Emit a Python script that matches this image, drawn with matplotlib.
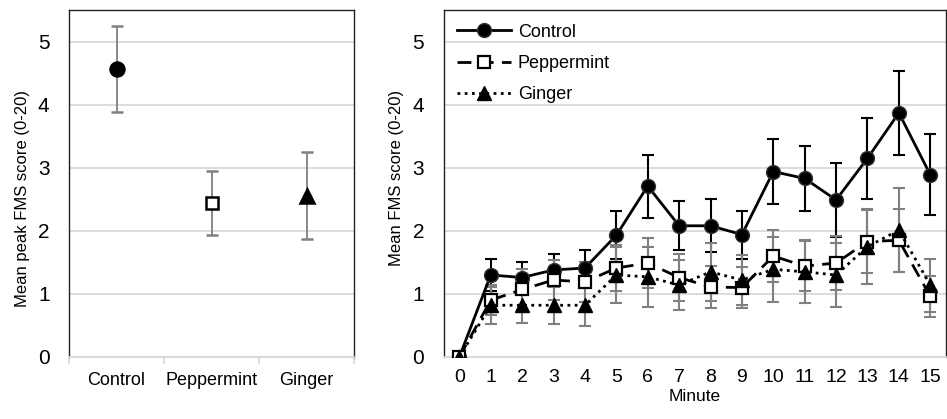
import matplotlib
matplotlib.use("Agg")
import matplotlib.pyplot as plt
from matplotlib.lines import Line2D

plt.rcParams['font.family'] = ['Liberation Sans', 'DejaVu Sans']

# Painel esquerdo: pico médio por grupo
groups = ["Control", "Peppermint", "Ginger"]
peak_mean = [4.56, 2.44, 2.56]
peak_err = [0.68, 0.51, 0.69]

# Painel direito: escore médio por minuto
minutes = list(range(16))
control = [0, 1.30, 1.26, 1.38, 1.41, 1.93, 2.71, 2.08, 2.08, 1.94, 2.94, 2.83, 2.49, 3.15, 3.87, 2.89]
control_err = [0, 0.26, 0.24, 0.26, 0.29, 0.38, 0.50, 0.39, 0.42, 0.38, 0.51, 0.51, 0.59, 0.64, 0.66, 0.64]
peppermint = [0, 0.90, 1.07, 1.22, 1.19, 1.41, 1.49, 1.26, 1.11, 1.10, 1.60, 1.44, 1.49, 1.83, 1.85, 0.96]
peppermint_err = [0, 0.24, 0.32, 0.31, 0.32, 0.37, 0.40, 0.38, 0.34, 0.33, 0.41, 0.40, 0.43, 0.50, 0.50, 0.32]
ginger = [0, 0.82, 0.82, 0.82, 0.82, 1.30, 1.27, 1.14, 1.35, 1.22, 1.39, 1.35, 1.30, 1.75, 2.01, 1.14]
ginger_err = [0, 0.29, 0.28, 0.29, 0.33, 0.45, 0.48, 0.40, 0.46, 0.40, 0.52, 0.50, 0.50, 0.60, 0.67, 0.42]

GRID = '#d9d9d9'
ERR_GRAY = '#808080'

fig = plt.figure(figsize=(9.47, 4.19), dpi=100)
ax1 = fig.add_axes([0.0729, 0.148, 0.301, 0.828])
ax2 = fig.add_axes([0.4685, 0.148, 0.5304, 0.828])


def style_axes(ax):
    ax.set_ylim(0, 5.5)
    ax.set_yticks([0, 1, 2, 3, 4, 5])
    ax.yaxis.grid(True, color=GRID, linewidth=1.3)
    ax.set_axisbelow(True)
    for s in ['left', 'top', 'right']:
        ax.spines[s].set_color('#222222')
        ax.spines[s].set_linewidth(1.0)
    ax.spines['bottom'].set_color(GRID)
    ax.spines['bottom'].set_linewidth(1.3)
    ax.tick_params(axis='y', length=0, labelsize=15, pad=14)


# --- painel esquerdo
style_axes(ax1)
xs = list(range(len(groups)))
markers = [('o', 'black', 10), ('s', 'white', 8.5), ('^', 'black', 9.5)]
for i in xs:
    m, fc, ms = markers[i]
    ax1.errorbar(xs[i], peak_mean[i], yerr=peak_err[i], fmt=m, color='black',
                 mfc=fc, mec='black', mew=1.8, ms=ms, ecolor=ERR_GRAY,
                 elinewidth=1.3, capsize=4, capthick=1.3, zorder=3)
ax1.set_xlim(-0.5, 2.5)
ax1.set_xticks(xs)
ax1.set_xticklabels(groups)
ax1.set_xticks([-0.5, 0.5, 1.5, 2.5], minor=True)
ax1.tick_params(axis='x', which='major', length=0, pad=11, labelsize=13)
ax1.tick_params(axis='x', which='minor', length=5, color=GRID, width=1.3)
ax1.set_ylabel("Mean peak FMS score (0-20)", fontsize=12, labelpad=6, y=0.458)

# --- painel direito
style_axes(ax2)
ax2.errorbar(minutes, control, yerr=control_err, fmt='none', ecolor='black',
             elinewidth=1.5, capsize=4, capthick=1.5, zorder=2)
ax2.errorbar(minutes, peppermint, yerr=peppermint_err, fmt='none', ecolor=ERR_GRAY,
             elinewidth=1.5, capsize=4, capthick=1.5, zorder=2)
ax2.errorbar(minutes, ginger, yerr=ginger_err, fmt='none', ecolor=ERR_GRAY,
             elinewidth=1.5, capsize=4, capthick=1.5, zorder=2)

ax2.plot(minutes, control, '-', color='black', lw=2, marker='o', ms=10,
         mfc='black', mec='#333333', zorder=4)
ax2.plot(minutes, peppermint, color='black', lw=2, ls=(0, (5, 3)), marker='s', ms=8.5,
         mfc='white', mec='black', mew=1.6, zorder=5)
ax2.plot(minutes, ginger, color='black', lw=2, ls=(0, (1, 1.6)), marker='^', ms=9.5,
         mfc='black', mec='black', zorder=6)

ax2.set_xlim(-0.5, 15.5)
ax2.set_xticks(minutes)
ax2.tick_params(axis='x', length=0, pad=9, labelsize=14)
ax2.set_ylabel("Mean FMS score (0-20)", fontsize=12, labelpad=6, y=0.517)
ax2.set_xlabel("Minute", fontsize=12.5, labelpad=2)

handles = [
    Line2D([], [], color='black', lw=2, marker='o', ms=10, mfc='black', mec='#333333'),
    Line2D([], [], color='black', lw=2, ls=(0, (5, 3)), marker='s', ms=8.5, mfc='white', mec='black', mew=1.6),
    Line2D([], [], color='black', lw=2, ls=(0, (1, 1.6)), marker='^', ms=9.5, mfc='black'),
]
ax2.legend(handles, ["Control", "Peppermint", "Ginger"], loc='upper left',
           frameon=False, fontsize=13, handlelength=3.0, handletextpad=0.35,
           labelspacing=0.8, borderaxespad=0.35, bbox_to_anchor=(0.0, 1.0))

fig.savefig("out.png", dpi=100, facecolor='white')
